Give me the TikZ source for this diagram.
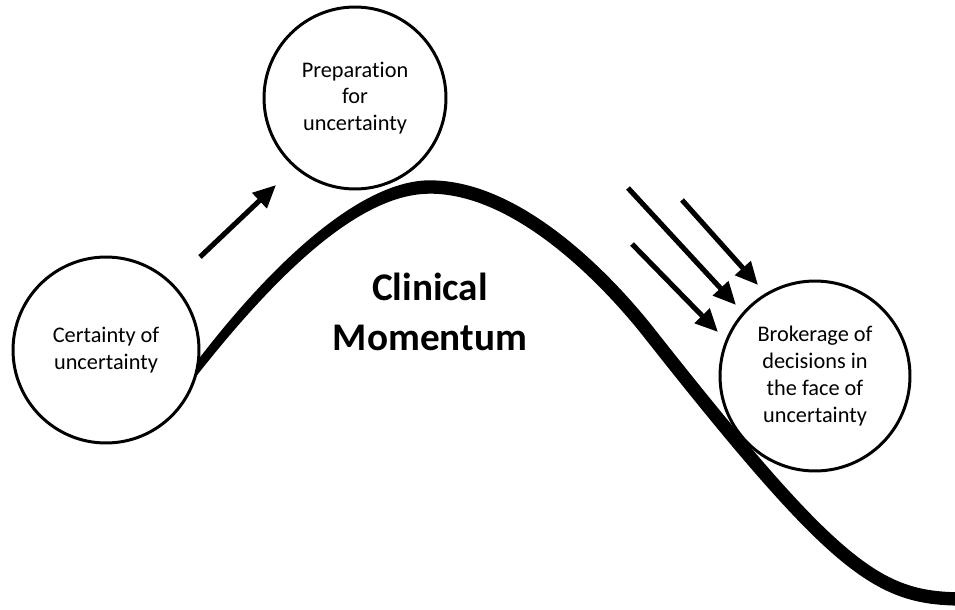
\documentclass[tikz,border=0pt]{standalone}
\usepackage{fontspec}
\setmainfont{Carlito}[Ligatures=NoCommon]
\usetikzlibrary{arrows.meta}
\begin{document}
\begin{tikzpicture}[x=0.02cm,y=-0.02cm,
  stage/.style={circle,draw=black,line width=1.7pt,fill=white,inner sep=0pt,
    align=center,font=\fontsize{12.7}{15.3}\selectfont},
  push/.style={line width=2.9pt,-{Triangle[length=13pt,width=11.5pt]}},
  hill/.style={line width=7.6pt,line cap=butt},
  hillstart/.style={fill=black,draw=none}
]
\useasboundingbox (0,0) rectangle (955,609);
% the hill: tapered rise, then the full-width descent
\fill[hillstart] (178.8,385.6) .. controls (266.2,265.4) and (360,180.3) .. (430,180.3)
  -- (430,193.7) .. controls (360,193.7) and (275.8,272.6) .. (185.2,390.4) -- cycle;
\draw[hill] (430,187)
  .. controls (520,187) and (610,283) .. (650,334)
  .. controls (840,575) and (880,599) .. (965,599);
% stages
\node[stage,minimum size=3.72cm] (c1) at (106,350) {Certainty of\\uncertainty};
\node[stage,minimum size=3.64cm] (c2) at (355,98) {Preparation\\for\\uncertainty};
\node[stage,minimum size=3.8cm] (c3) at (815,376) {Brokerage of\\decisions in\\the face of\\uncertainty};
% title
\node[align=center,font=\fontsize{22.3}{28.5}\selectfont\bfseries] (title) at (430,312) {Clinical\\Momentum};
% arrows
\coordinate (a1s) at (200,257); \coordinate (a1e) at (276,185);
\coordinate (a2s) at (628,188); \coordinate (a2e) at (736,305);
\coordinate (a3s) at (682,200); \coordinate (a3e) at (758,285);
\coordinate (a4s) at (632,244); \coordinate (a4e) at (718,332);
\draw[push] (a1s) -- (a1e);
\draw[push] (a2s) -- (a2e);
\draw[push] (a3s) -- (a3e);
\draw[push] (a4s) -- (a4e);
\end{tikzpicture}
\end{document}
